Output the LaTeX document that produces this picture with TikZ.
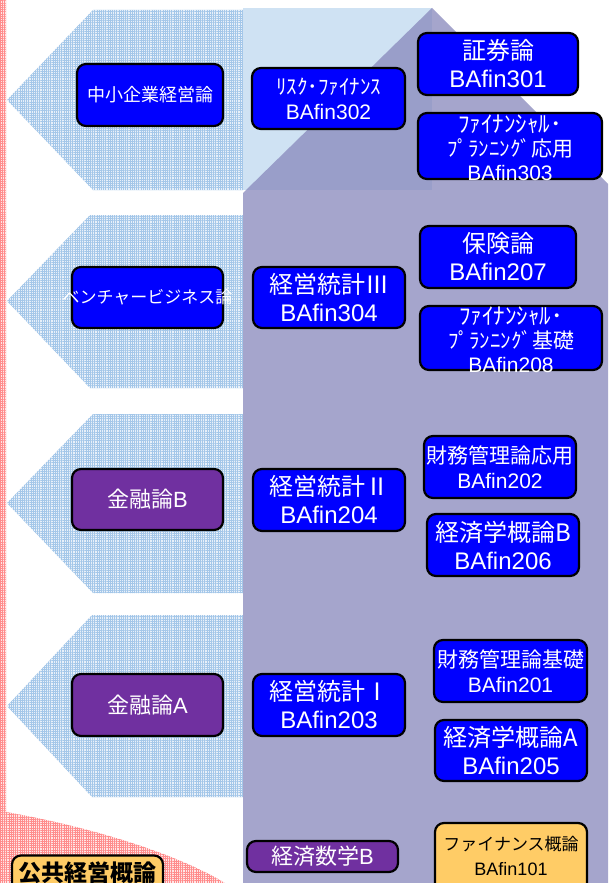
\documentclass[tikz,border=0pt]{standalone}
\usepackage{fontspec}
\setmainfont{Liberation Sans}
\newfontfamily\jp{Noto Sans CJK JP}
\usetikzlibrary{patterns.meta}
\definecolor{boxblue}{HTML}{0000FF}
\definecolor{boxpurple}{HTML}{7030A0}
\definecolor{boxorange}{HTML}{FFCC66}
\definecolor{regpurple}{HTML}{8888BB}
\definecolor{reglight}{HTML}{CFE2F3}
\definecolor{dotblue}{HTML}{A4C7E9}
\definecolor{tintblue}{HTML}{E8F0F9}
\definecolor{dotred}{HTML}{FF8C8C}
\definecolor{tintred}{HTML}{FFE6E6}
\begin{document}
\begin{tikzpicture}[x=1pt,y=-1pt,
  course/.style={draw=black, line width=2.2pt, rounded corners=9pt, inner sep=0pt},
  bluecourse/.style={course, fill=boxblue},
  purplecourse/.style={course, fill=boxpurple},
  orangecourse/.style={course, fill=boxorange},
  wtext/.style={text=white, align=center, inner sep=0pt},
  ktext/.style={text=black, align=center, inner sep=0pt},
  big/.style={font=\fontsize{24}{28}\selectfont},
  mid/.style={font=\fontsize{21}{25}\selectfont},
  bluegrid/.style={fill=tintblue, postaction={pattern={Hatch[angle=0,distance=2.2pt,line width=0.6pt]}, pattern color=dotblue}},
  redgrid/.style={fill=tintred, postaction={pattern={Hatch[angle=0,distance=2.2pt,line width=0.6pt]}, pattern color=dotred}}
]
\useasboundingbox (0,0) rectangle (608,883);
\fill[white] (0,0) rectangle (608,883);
% left red strip and bottom red region
\path[redgrid] (0,0) rectangle (6,883);
\path[redgrid] (0,812) -- (6,812) .. controls (80,825) and (170,850) .. (225,883) -- (0,883) -- cycle;
% left arrow-shaped pentagons
\path[bluegrid] (93,10) -- (243,10) -- (243,190) -- (93,190) -- (7,100) -- cycle;
\path[bluegrid] (90,215) -- (243,215) -- (243,388) -- (90,388) -- (7,301) -- cycle;
\path[bluegrid] (93,414) -- (243,414) -- (243,593) -- (93,593) -- (7,503) -- cycle;
\path[bluegrid] (92,615) -- (243,615) -- (243,797) -- (92,797) -- (7,706) -- cycle;
% right regions
\fill[reglight] (243,8) rectangle (432,190);
\fill[regpurple, fill opacity=0.75] (243,193) -- (432,8) -- (608,184) -- (608,883) -- (243,883) -- cycle;
% course boxes
\node[bluecourse, minimum width=146pt, minimum height=62pt,
  label={[wtext, font=\fontsize{18}{22}\selectfont]center:{\jp 中小企業経営論}}] (smb) at (150,95) {};
\node[bluecourse, minimum width=153pt, minimum height=61pt,
  label={[wtext, font=\fontsize{21}{25}\selectfont]center:{{\jp\fontsize{21}{25}\selectfont ﾘｽｸ･ﾌｧｲﾅﾝｽ}\\BAfin302}}] (risk) at (328.5,98.5) {};
\node[bluecourse, minimum width=160pt, minimum height=62pt,
  label={[wtext, big]center:{{\jp 証券論}\\BAfin301}}] (sec) at (498,64) {};
\node[bluecourse, minimum width=184pt, minimum height=66pt,
  label={[wtext, font=\fontsize{21}{24}\selectfont, yshift=-2pt]center:{{\jp\fontsize{23}{24}\selectfont ﾌｧｲﾅﾝｼｬﾙ･}\\{\jp ﾌﾟﾗﾝﾆﾝｸﾞ応用}\\BAfin303}}] (fpapp) at (510,146) {};
\node[bluecourse, minimum width=151pt, minimum height=61pt,
  label={[wtext, font=\fontsize{17}{20}\selectfont]center:{\jp ベンチャービジネス論}}] (venture) at (147.5,297.5) {};
\node[bluecourse, minimum width=152pt, minimum height=61pt,
  label={[wtext, big]center:{{\jp 経営統計Ⅲ}\\BAfin304}}] (stat3) at (329,297.5) {};
\node[bluecourse, minimum width=156pt, minimum height=62pt,
  label={[wtext, big]center:{{\jp 保険論}\\BAfin207}}] (ins) at (498,257) {};
\node[bluecourse, minimum width=182pt, minimum height=64pt,
  label={[wtext, font=\fontsize{21}{24}\selectfont, yshift=-2pt]center:{{\jp\fontsize{23}{24}\selectfont ﾌｧｲﾅﾝｼｬﾙ･}\\{\jp ﾌﾟﾗﾝﾆﾝｸﾞ基礎}\\BAfin208}}] (fpbasic) at (511,338) {};
\node[purplecourse, minimum width=151pt, minimum height=61pt,
  label={[wtext, font=\fontsize{22}{26}\selectfont]center:{{\jp 金融論}B}}] (finB) at (147.5,499.5) {};
\node[bluecourse, minimum width=152pt, minimum height=62pt,
  label={[wtext, big]center:{{\jp 経営統計Ⅱ}\\BAfin204}}] (stat2) at (329,500) {};
\node[bluecourse, minimum width=152pt, minimum height=62pt,
  label={[wtext, mid]center:{{\jp 財務管理論応用}\\BAfin202}}] (fmapp) at (500,467) {};
\node[bluecourse, minimum width=152pt, minimum height=62pt,
  label={[wtext, big]center:{{\jp 経済学概論B}\\BAfin206}}] (econB) at (503,545) {};
\node[purplecourse, minimum width=151pt, minimum height=62pt,
  label={[wtext, font=\fontsize{22}{26}\selectfont]center:{{\jp 金融論}A}}] (finA) at (147.5,705) {};
\node[bluecourse, minimum width=152pt, minimum height=62pt,
  label={[wtext, big]center:{{\jp 経営統計Ⅰ}\\BAfin203}}] (stat1) at (329,705) {};
\node[bluecourse, minimum width=153pt, minimum height=62pt,
  label={[wtext, mid]center:{{\jp 財務管理論基礎}\\BAfin201}}] (fmbasic) at (510.5,671) {};
\node[bluecourse, minimum width=152pt, minimum height=61pt,
  label={[wtext, big]center:{{\jp 経済学概論A}\\BAfin205}}] (econA) at (511,750.5) {};
\node[purplecourse, minimum width=151pt, minimum height=31pt,
  label={[wtext, font=\fontsize{22}{26}\selectfont]center:{{\jp 経済数学}B}}] (econmath) at (322.5,856.5) {};
\node[orangecourse, minimum width=152pt, minimum height=72pt,
  label={[ktext, yshift=3.5pt, font=\fontsize{18}{25}\selectfont]center:{{\jp\fontsize{17}{25}\selectfont ファイナンス概論}\\BAfin101}}] (intro) at (511,859) {};
\node[orangecourse, minimum width=151pt, minimum height=49pt,
  label={[ktext, yshift=7pt, font=\fontsize{23}{27}\selectfont]center:{\jp\bfseries 公共経営概論}}] (public) at (87.5,880) {};
\end{tikzpicture}
\end{document}
